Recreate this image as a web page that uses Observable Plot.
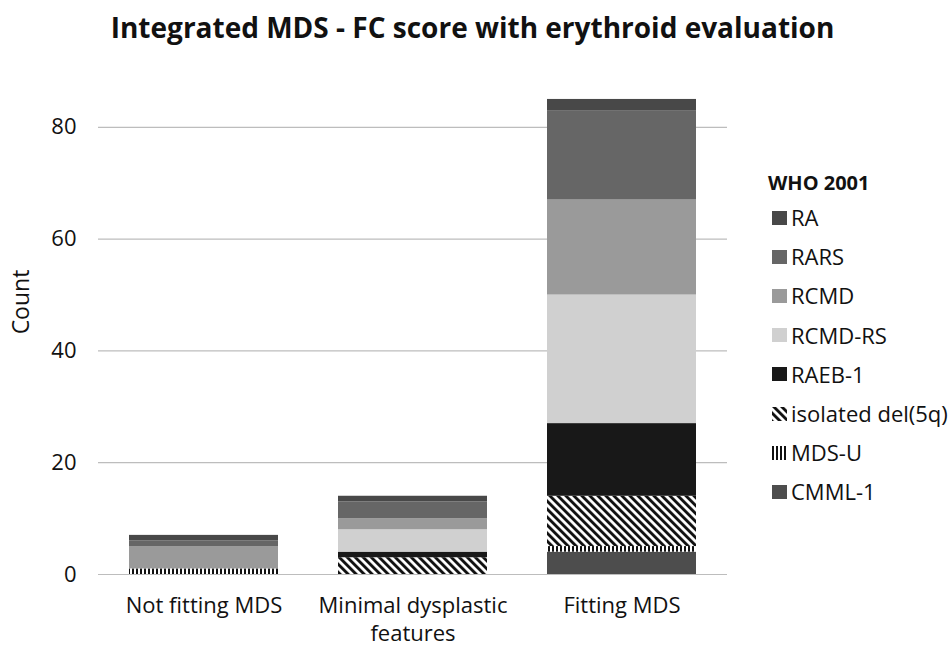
<!DOCTYPE html>
<html>
<head>
<meta charset="utf-8">
<script src="https://cdn.jsdelivr.net/npm/d3@7"></script>
<script src="https://cdn.jsdelivr.net/npm/@observablehq/plot@0.6"></script>
<style>
  body { margin: 0; background: #fff; font-family: "Open Sans", sans-serif; }
  #wrap { position: relative; width: 948px; height: 646px; overflow: hidden; }
  #title { position: absolute; left: 0; top: 8px; width: 945px; text-align: center; font-weight: bold; font-size: 28px; color: #111; white-space: nowrap; }
  #chart { position: absolute; left: 0; top: 60px; }
  #legend { position: absolute; left: 768px; top: 168px; font-size: 22px; color: #111; }
  #legend .lt { font-weight: bold; font-size: 20px; height: 30px; line-height: 30px; margin-bottom: 0; }
  #legend .it { height: 39.2px; line-height: 39.2px; display: flex; align-items: center; margin-left: 4px; }
  #legend svg { margin-right: 4px; }
  #count { position: absolute; left: 20px; top: 302px; transform: translate(-50%, -50%) rotate(-90deg); font-size: 23px; color: #111; white-space: nowrap; }
</style>
</head>
<body>
<div id="wrap">
  <div id="title">Integrated MDS - FC score with erythroid evaluation</div>
  <div id="chart"></div>
  <div id="count">Count</div>
  <div id="legend"></div>
</div>
<script>
// Categories (x axis)
const categories = ["Not fitting MDS", "Minimal dysplastic features", "Fitting MDS"];
const categoryLabels = ["Not fitting MDS", "Minimal dysplastic\nfeatures", "Fitting MDS"];
// Series in stacking order (bottom to top)
const seriesNames = ["CMML-1", "MDS-U", "isolated del(5q)", "RAEB-1", "RCMD-RS", "RCMD", "RARS", "RA"];
// Values per category [Not fitting MDS, Minimal dysplastic features, Fitting MDS]
const cmml1   = [0, 0, 4];
const mdsU    = [1, 0, 1];
const del5q   = [0, 3, 9];
const raeb1   = [0, 1, 13];
const rcmdRS  = [0, 4, 23];
const rcmd    = [4, 2, 17];
const rars    = [1, 3, 16];
const ra      = [1, 1, 2];
const seriesValues = [cmml1, mdsU, del5q, raeb1, rcmdRS, rcmd, rars, ra];
const yTicks = [0, 20, 40, 60, 80];
// Legend order (top to bottom)
const legendOrder = ["RA", "RARS", "RCMD", "RCMD-RS", "RAEB-1", "isolated del(5q)", "MDS-U", "CMML-1"];

const fills = {
  "CMML-1": "#4d4d4d",
  "MDS-U": "url(#vstripe)",
  "isolated del(5q)": "url(#diag)",
  "RAEB-1": "#181818",
  "RCMD-RS": "#d0d0d0",
  "RCMD": "#9a9a9a",
  "RARS": "#666666",
  "RA": "#484848"
};

const data = [];
seriesNames.forEach((s, i) => {
  categories.forEach((c, j) => {
    data.push({category: c, series: s, value: seriesValues[i][j]});
  });
});

const defs = `
<pattern id="diag" patternUnits="userSpaceOnUse" width="5.66" height="5.66" patternTransform="rotate(-45)">
  <rect width="5.66" height="5.66" fill="#fff"/>
  <rect width="2.9" height="5.66" fill="#111"/>
</pattern>
<pattern id="vstripe" patternUnits="userSpaceOnUse" width="4" height="4">
  <rect width="4" height="4" fill="#fff"/>
  <rect width="2" height="4" fill="#111"/>
</pattern>`;

const plot = Plot.plot({
  width: 948,
  height: 586,
  marginLeft: 98,
  marginRight: 221,
  marginTop: 11,
  marginBottom: 72,
  style: {fontFamily: "'Open Sans', sans-serif", fontSize: "22px", color: "#111", background: "transparent", overflow: "visible"},
  x: {domain: categories, paddingInner: 0.285, paddingOuter: 0.1425, label: null},
  y: {domain: [0, 90], label: null},
  color: {domain: seriesNames, range: seriesNames.map(s => fills[s]), legend: false},
  marks: [
    Plot.gridY(yTicks, {stroke: "#bdbdbd", strokeOpacity: 1, strokeWidth: 1.2}),
    Plot.barY(data, {x: "category", y: "value", fill: "series", order: null}),
    Plot.axisY(yTicks, {tickSize: 0, tickPadding: 22, label: null, fontSize: 22}),
    Plot.axisX({tickSize: 0, tickPadding: 19, label: null, fontSize: 22, lineHeight: 1.26,
      tickFormat: d => categoryLabels[categories.indexOf(d)]})
  ]
});
d3.select(plot).insert("defs", ":first-child").html(defs);
document.getElementById("chart").appendChild(plot);

// Legend
const leg = d3.select("#legend");
leg.append("div").attr("class", "lt").text("WHO 2001");
legendOrder.forEach(name => {
  const it = leg.append("div").attr("class", "it");
  const sw = it.append("svg").attr("width", 15).attr("height", 14);
  const f = fills[name];
  if (f.startsWith("url")) {
    sw.append("defs").html(defs.replaceAll('id="diag"', 'id="ldiag"').replaceAll('id="vstripe"', 'id="lvstripe"'));
    sw.append("rect").attr("width", 15).attr("height", 14)
      .attr("fill", f === "url(#diag)" ? "url(#ldiag)" : "url(#lvstripe)");
  } else {
    sw.append("rect").attr("width", 15).attr("height", 14).attr("fill", f);
  }
  it.append("span").text(name);
});
</script>
</body>
</html>
